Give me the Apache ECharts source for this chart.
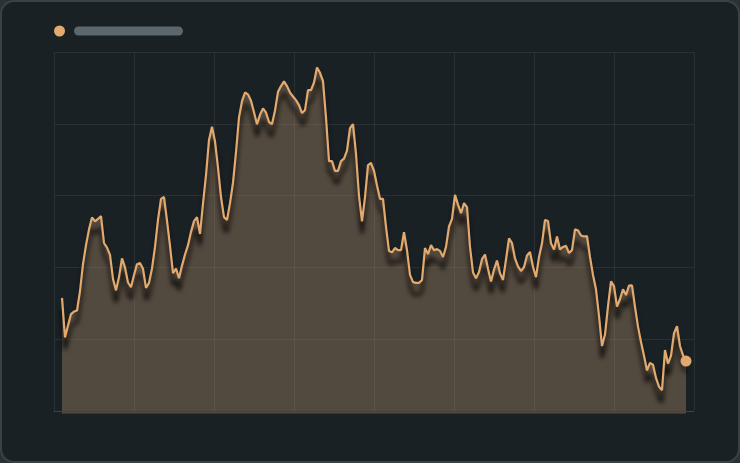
<!DOCTYPE html>
<html>
<head>
<meta charset="utf-8">
<script src="https://cdn.jsdelivr.net/npm/echarts@6/dist/echarts.min.js"></script>
<style>
  html, body { margin: 0; padding: 0; background: #2b3235; }
  #panel {
    position: absolute; left: 0; top: 0; width: 740px; height: 463px;
    box-sizing: border-box; border: 2px solid #394245; border-radius: 14px;
    background: #1a2124;
  }
  #chart { position: absolute; left: 0; top: 0; width: 740px; height: 463px; }
</style>
</head>
<body>
<div id="panel"></div>
<div id="chart"></div>
<script>
  // 数据：均匀采样的一条序列
  var seriesName = 'series';
  var xStart = 1;
  var xStep = 0.375;
  var values = [
    31.5, 20.5, 23.8, 27.0, 27.7, 28.0, 33.4, 40.9, 46.2, 50.6,
    53.9, 52.8, 53.5, 54.3, 46.8, 45.5, 43.5, 36.8, 33.6, 37.3,
    42.5, 40.0, 35.8, 34.5, 37.9, 40.9, 41.2, 39.6, 34.3, 35.7,
    39.7, 45.7, 53.3, 59.1, 59.6, 53.0, 46.0, 38.4, 39.7, 37.0,
    40.5, 43.6, 46.2, 49.9, 52.9, 54.0, 49.3, 57.8, 65.7, 75.5,
    79.2, 75.1, 67.8, 59.6, 54.0, 53.2, 57.9, 63.6, 72.1, 81.8,
    86.3, 88.7, 88.2, 86.4, 83.2, 79.9, 82.5, 84.3, 83.1, 80.5,
    79.9, 83.7, 88.9, 90.5, 91.8, 90.5, 88.7, 87.6, 86.6, 85.2,
    83.0, 83.8, 89.4, 89.4, 91.5, 95.7, 94.2, 91.9, 81.7, 69.6,
    69.6, 66.9, 66.9, 69.6, 70.3, 72.5, 78.8, 79.9, 71.6, 59.9,
    52.8, 59.6, 68.5, 69.1, 66.9, 62.8, 59.1, 59.1, 51.3, 44.6,
    44.2, 45.4, 44.8, 44.8, 49.8, 44.8, 37.9, 35.9, 35.7, 35.7,
    36.5, 45.4, 43.7, 46.2, 44.8, 45.1, 44.6, 42.9, 45.7, 51.4,
    53.5, 60.2, 57.5, 55.1, 57.9, 56.8, 45.7, 38.6, 37.0, 38.7,
    42.3, 43.6, 39.6, 36.1, 39.4, 41.9, 38.4, 36.5, 42.2, 48.1,
    46.8, 42.5, 40.3, 39.0, 40.1, 43.3, 44.3, 40.2, 37.3, 42.9,
    46.7, 53.2, 52.9, 46.7, 45.0, 48.6, 45.0, 45.7, 46.0, 44.0,
    44.8, 50.6, 50.3, 48.9, 48.6, 48.7, 42.9, 37.9, 33.9, 26.5,
    18.1, 21.3, 29.2, 36.1, 34.8, 29.1, 31.2, 33.9, 32.3, 34.9,
    35.0, 29.0, 23.5, 19.2, 15.4, 11.3, 13.4, 12.9, 9.2, 6.8,
    5.8, 17.0, 13.2, 15.4, 21.7, 23.6, 18.1, 15.5, 13.9
  ];

  var lineColor = '#e2aa6e';
  var gridColor = '#283134';

  // 把序列转换成 [x, y]
  var toPoints = function (withEndDot) {
    return values.map(function (v, i) {
      var item = { value: [xStart + i * xStep, v] };
      if (withEndDot && i === values.length - 1) {
        item.symbol = 'circle';
        item.symbolSize = 11;
      }
      return item;
    });
  };

  var chart = echarts.init(document.getElementById('chart'));
  var option = {
    backgroundColor: 'transparent',
    animation: false,
    legend: {
      left: 49,
      top: 20,
      icon: 'circle',
      itemWidth: 11,
      itemHeight: 11,
      data: [seriesName],
      formatter: function () { return '{gap|}{bar|}'; },
      textStyle: {
        lineHeight: 11,
        rich: {
          gap: { width: 4, height: 9 },
          bar: { width: 109, height: 9, backgroundColor: '#5b676d', borderRadius: 4.5 }
        }
      }
    },
    grid: { left: 54, right: 46, top: 52, bottom: 52 },
    xAxis: {
      type: 'value',
      min: 0,
      max: 80,
      interval: 10,
      axisLine: { show: false },
      axisTick: { show: false },
      axisLabel: { show: false },
      splitLine: { show: true, lineStyle: { color: gridColor, width: 1 } }
    },
    yAxis: {
      type: 'value',
      min: 0,
      max: 100,
      interval: 20,
      axisLine: { show: false },
      axisTick: { show: false },
      axisLabel: { show: false },
      splitLine: { show: true, lineStyle: { color: gridColor, width: 1 } }
    },
    series: [{
      // 面积层
      name: 'area',
      type: 'line',
      z: 2,
      data: toPoints(false),
      symbol: 'none',
      clip: false,
      lineStyle: { width: 0, opacity: 0 },
      areaStyle: {
        color: 'rgba(192, 153, 116, 0.35)',
        opacity: 1,
        origin: -0.7
      },
      markLine: {
        silent: true,
        symbol: 'none',
        label: { show: false },
        lineStyle: { color: '#37464e', width: 1, type: 'solid' },
        data: [{ yAxis: 0 }]
      }
    }, {
      // 折线层（带阴影）
      name: seriesName,
      type: 'line',
      z: 3,
      data: toPoints(true),
      symbol: 'none',
      showSymbol: true,
      itemStyle: { color: lineColor },
      lineStyle: {
        color: lineColor,
        width: 2.2,
        shadowColor: 'rgba(0, 0, 0, 1)',
        shadowBlur: 5,
        shadowOffsetY: 12
      }
    }]
  };
  chart.setOption(option);
</script>
</body>
</html>
